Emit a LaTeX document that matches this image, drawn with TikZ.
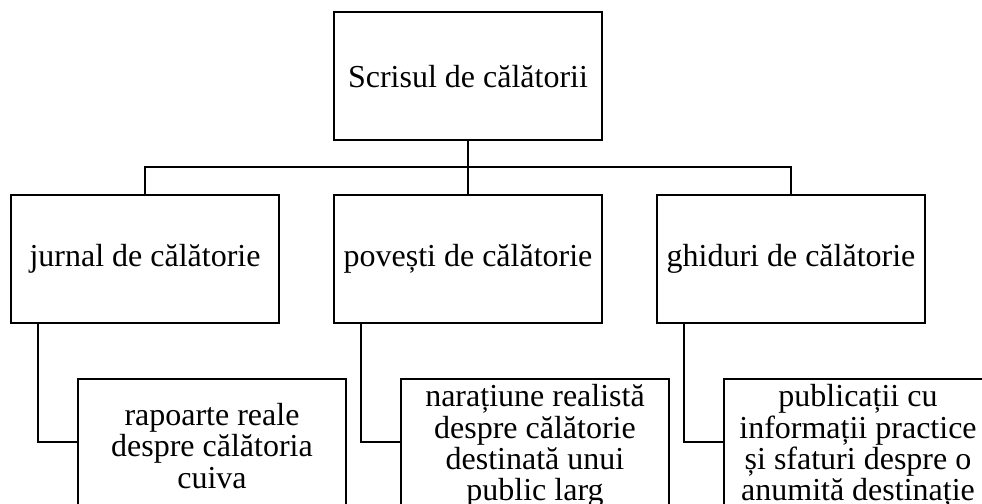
\documentclass[tikz,border=0pt]{standalone}
\usepackage{fontspec}
\setmainfont{Liberation Serif}

\begin{document}
\begin{tikzpicture}[
    x=0.5pt, y=0.5pt,
    box/.style={draw,line width=1pt,minimum width=134pt,minimum height=64pt,align=center,inner sep=2pt,font=\fontsize{16pt}{15.6pt}\selectfont},
    leaf/.style={box,minimum height=67pt},
    link/.style={line width=1pt},
]
    \useasboundingbox (0,0) rectangle (982,504);

    \node [box] (root) at (468,427.5) {Scrisul de călătorii};

    \path (root) ++(-323,-182.5) node [box] (jurnal) {jurnal de călătorie};
    \path (root) ++(0,-182.5) node [box] (povesti) {povești de călătorie};
    \path (root) ++(323,-182.5) node [box] (ghiduri) {ghiduri de călătorie};
    \draw [link] (root.south) -- ++(0,-26) -| (jurnal.north);
    \draw [link] (root.south) -- ++(0,-26) -| (ghiduri.north);
    \draw [link] (root.south) -- (povesti.north);

    \path (jurnal) ++(67,-187) node [leaf] (rapoarte) {rapoarte reale\\despre călătoria\\cuiva};
    \path (povesti) ++(67,-187) node [leaf] (naratiune) {narațiune realistă\\despre călătorie\\destinată unui\\public larg};
    \path (ghiduri) ++(67,-187) node [leaf] (publicatii) {publicații cu\\informații practice\\și sfaturi despre o\\anumită destinație};
    \draw [link] ([xshift=14pt]jurnal.south west) |- ([yshift=2pt]rapoarte.west);
    \draw [link] ([xshift=14pt]povesti.south west) |- ([yshift=2pt]naratiune.west);
    \draw [link] ([xshift=14pt]ghiduri.south west) |- ([yshift=2pt]publicatii.west);

\end{tikzpicture}
\end{document}
